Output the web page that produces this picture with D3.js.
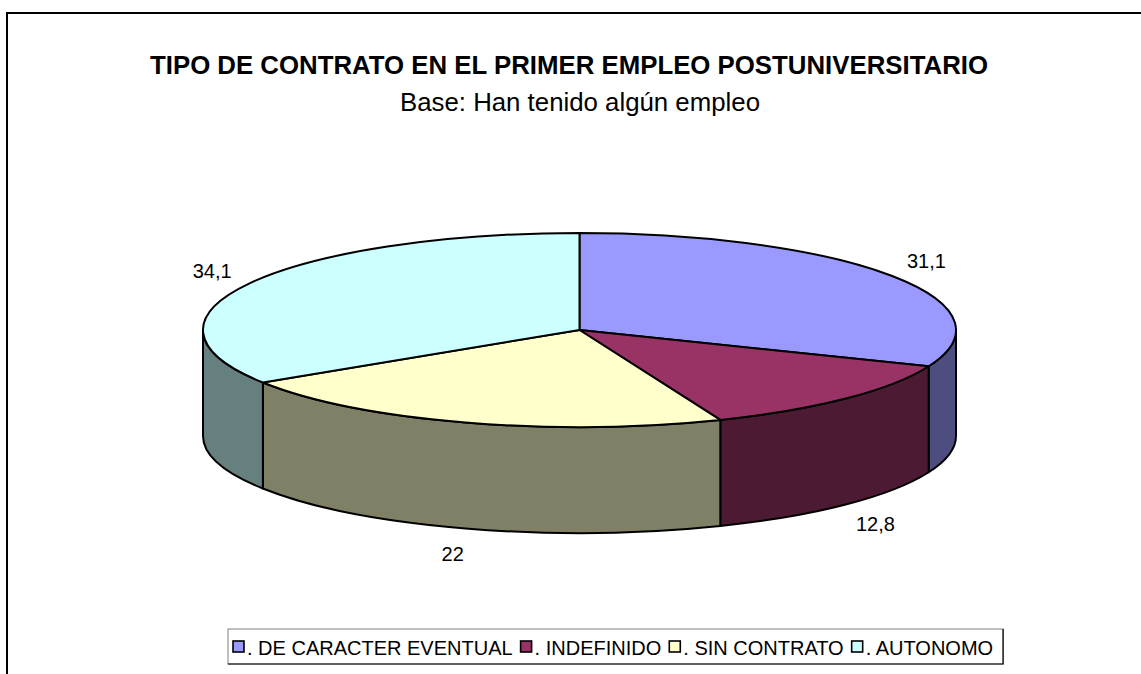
<!DOCTYPE html>
<html>
<head>
<meta charset="utf-8" />
<title>Tipo de contrato en el primer empleo postuniversitario</title>
<script src="https://d3js.org/d3.v7.min.js"></script>
<style>
  html, body { margin: 0; padding: 0; background: #fff; }
  svg text { font-family: "Liberation Sans", Arial, sans-serif; fill: #000; }
</style>
</head>
<body>
<div id="chart"></div>
<script>
// data
var categories = [". DE CARACTER EVENTUAL", ". INDEFINIDO", ". SIN CONTRATO", ". AUTONOMO"];
var values = [31.1, 12.8, 22, 34.1];
var topColors = ["#9999FF", "#993366", "#FFFFCC", "#CCFFFF"];
var sideColors = ["#4D4D80", "#4D1A33", "#808066", "#668080"];

var width = 1141, height = 674;

// ellipse of the 3d pie
var cx = 579.5, cy = 330, rx = 376.5, ry = 97, depth = 106;

var svg = d3.select("#chart")
  .append("svg")
    .attr("width", width)
    .attr("height", height);

svg.append("rect")
  .attr("width", width).attr("height", height)
  .attr("fill", "#fff");

// outer frame (only top and left are visible in the window)
svg.append("path")
  .attr("d", "M7,676 L7,13 L1145,13")
  .attr("fill", "none")
  .attr("stroke", "#000")
  .attr("stroke-width", 2);

// titles
svg.append("text")
  .attr("x", 569).attr("y", 74)
  .attr("text-anchor", "middle")
  .attr("font-size", "25.8px")
  .attr("font-weight", "bold")
  .text("TIPO DE CONTRATO EN EL PRIMER EMPLEO POSTUNIVERSITARIO");

svg.append("text")
  .attr("x", 580).attr("y", 111)
  .attr("text-anchor", "middle")
  .attr("font-size", "25.8px")
  .text("Base: Han tenido algún empleo");

var topColor = d3.scaleOrdinal().domain(categories).range(topColors);
var sideColor = d3.scaleOrdinal().domain(categories).range(sideColors);

var arcs = d3.pie()
  .sort(null)
  .value(function(d, i) { return values[i]; })(categories);

function px(a) { return cx + rx * Math.sin(a); }
function py(a) { return cy - ry * Math.cos(a); }

function topPath(d) {
  var a0 = d.startAngle, a1 = d.endAngle;
  var large = (a1 - a0) > Math.PI ? 1 : 0;
  return "M" + cx + "," + cy +
    "L" + px(a0) + "," + py(a0) +
    "A" + rx + "," + ry + " 0 " + large + " 1 " + px(a1) + "," + py(a1) + "Z";
}

// outer wall, only the front half of the ellipse shows
function sidePath(d) {
  var a0 = Math.max(d.startAngle, Math.PI / 2);
  var a1 = Math.min(d.endAngle, 3 * Math.PI / 2);
  if (a1 <= a0) return null;
  return "M" + px(a0) + "," + py(a0) +
    "A" + rx + "," + ry + " 0 0 1 " + px(a1) + "," + py(a1) +
    "L" + px(a1) + "," + (py(a1) + depth) +
    "A" + rx + "," + ry + " 0 0 0 " + px(a0) + "," + (py(a0) + depth) + "Z";
}

var pie = svg.append("g");

pie.selectAll("path.side")
  .data(arcs.filter(function(d) { return sidePath(d) !== null; }))
  .enter()
  .append("path")
    .attr("class", "side")
    .attr("d", sidePath)
    .attr("fill", function(d) { return sideColor(d.data); })
    .attr("stroke", "#000")
    .attr("stroke-width", 2)
    .attr("stroke-linejoin", "round");

pie.selectAll("path.top")
  .data(arcs)
  .enter()
  .append("path")
    .attr("class", "top")
    .attr("d", topPath)
    .attr("fill", function(d) { return topColor(d.data); })
    .attr("stroke", "#000")
    .attr("stroke-width", 2)
    .attr("stroke-linejoin", "round");

// data labels, outside the pie along the middle angle
var fmt = function(v) { return String(v).replace(".", ","); };
pie.selectAll("text.lbl")
  .data(arcs)
  .enter()
  .append("text")
    .attr("class", "lbl")
    .attr("text-anchor", "middle")
    .attr("font-size", "20px")
    .attr("x", function(d) {
      var m = (d.startAngle + d.endAngle) / 2;
      return cx + (rx + 42) * Math.sin(m);
    })
    .attr("y", function(d) {
      var m = (d.startAngle + d.endAngle) / 2;
      var y = cy - (ry + 27) * Math.cos(m);
      if (Math.cos(m) < 0) y += depth;
      return y + 7;
    })
    .text(function(d) { return fmt(d.value); });

// legend
var legend = svg.append("g");
var lx = 228, ly = 629, lh = 35;
var box = legend.append("rect")
  .attr("x", lx).attr("y", ly).attr("height", lh)
  .attr("fill", "#fff")
  .attr("stroke", "#808080")
  .attr("stroke-width", 1);

var cur = lx + 5;
categories.forEach(function(c) {
  legend.append("rect")
    .attr("x", cur).attr("y", ly + 12)
    .attr("width", 11).attr("height", 11)
    .attr("fill", topColor(c))
    .attr("stroke", "#000")
    .attr("stroke-width", 1.6);
  var t = legend.append("text")
    .attr("x", cur + 14).attr("y", ly + 26)
    .attr("font-size", "20px")
    .text(c);
  cur += 14 + t.node().getComputedTextLength() + 8;
});
var lw = cur - lx + 2;
box.attr("width", lw);
legend.append("path")
  .attr("d", "M" + (lx + lw) + "," + ly + "L" + (lx + lw) + "," + (ly + lh) + "L" + lx + "," + (ly + lh))
  .attr("fill", "none")
  .attr("stroke", "#000")
  .attr("stroke-width", 1.2);
</script>
</body>
</html>
